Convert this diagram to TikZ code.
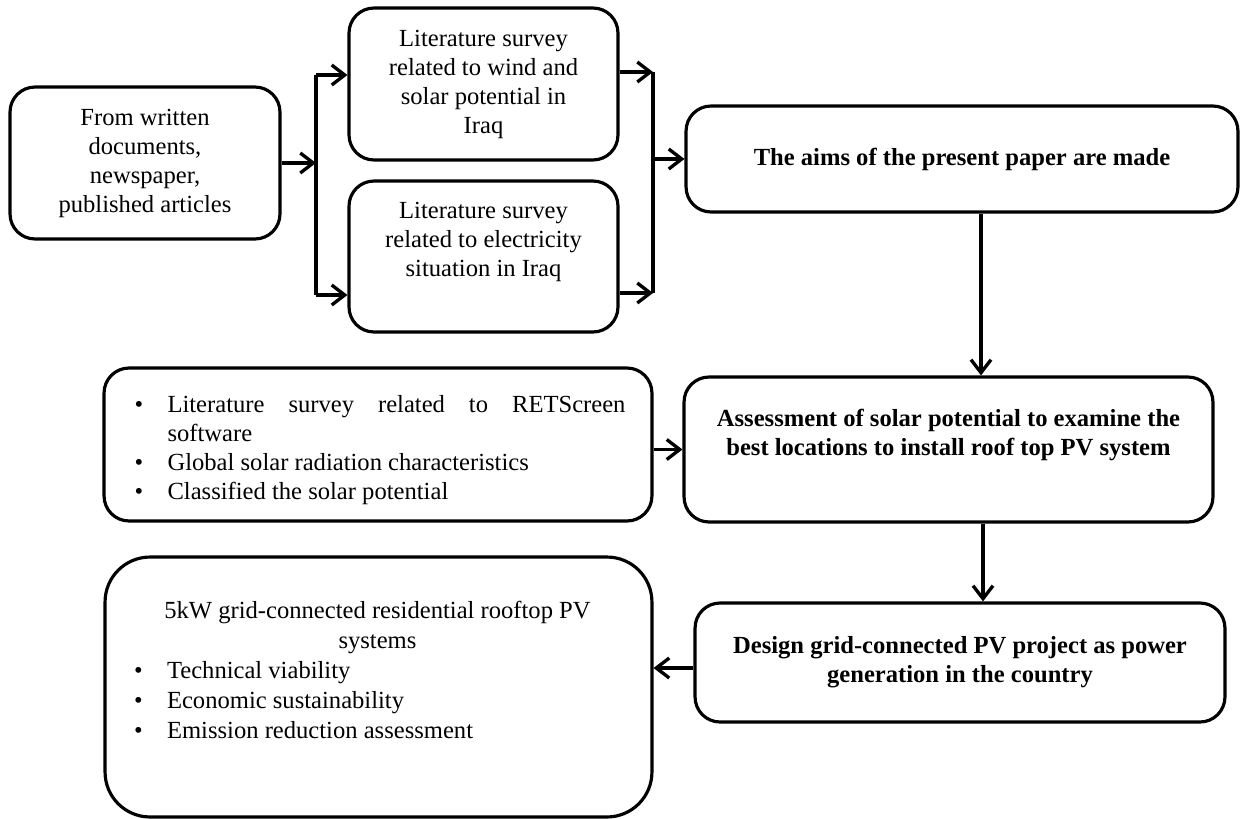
\documentclass[tikz,border=0pt]{standalone}
\usepackage{fontspec}
\setmainfont{Liberation Serif}
\usetikzlibrary{arrows.meta, positioning, calc}

\newcommand{\bul}[1]{\par\hangindent=0.74cm\hangafter=1\noindent\makebox[0.74cm][l]{\hspace{0.08cm}\textbullet}#1}

\begin{document}
\begin{tikzpicture}[
  x=0.02cm, y=-0.02cm,
  box/.style={draw, rounded corners=0.5cm, line width=1.8pt, align=center, inner sep=0pt, font=\fontsize{14}{16.5}\selectfont},
  txt/.style={inner sep=0pt, font=\fontsize{14}{16.5}\selectfont},
  arr/.style={-{Straight Barb[length=2.6mm, width=4mm]}, line width=1.9pt},
  wire/.style={line width=1.9pt},
]
  \useasboundingbox (0,0) rectangle (1240,818);

  % left column
  \node[box, minimum width=5.4cm, minimum height=3.04cm] (src) at (145,163)
    {From written\\documents,\\newspaper,\\published articles};
  \node[box, minimum width=5.38cm, minimum height=3.04cm] (wind) at (483.5,84)
    {Literature survey\\related to wind and\\solar potential in\\Iraq};
  \node[box, minimum width=5.38cm, minimum height=3.02cm] (elec) at (483.5,256.5) {};
  \node[txt, align=center] (electxt) at (483.5,242)
    {Literature survey\\related to electricity\\situation in Iraq};

  % right column
  \node[box, minimum width=11.04cm, minimum height=2.12cm, font=\fontsize{14}{16.5}\selectfont\bfseries] (aims) at (962,159)
    {The aims of the present paper are made};
  \node[box, minimum width=10.58cm, minimum height=2.9cm] (assess) at (948.5,449.5) {};
  \node[txt, align=center, font=\fontsize{14}{16.5}\selectfont\bfseries] (assesstxt) at (948.5,434.5)
    {Assessment of solar potential to examine the\\best locations to install roof top PV system};
  \node[box, minimum width=10.6cm, minimum height=2.38cm, font=\fontsize{14}{16.5}\selectfont\bfseries] (design) at (960,662.5)
    {Design grid-connected PV project as power\\generation in the country};

  % bullet boxes
  \node[box, align=justify, text width=9.9cm, inner xsep=0.52cm, minimum width=10.96cm, minimum height=3.06cm] (soft) at (378,444.5)
    {\bul{Literature survey related to RETScreen\linebreak software}\bul{Global solar radiation characteristics}\bul{Classified the solar potential}};
  \node[box, rounded corners=0.9cm, minimum width=10.94cm, minimum height=5.2cm] (pv) at (378.5,687) {};
  \node[txt, align=justify, text width=9.9cm, font=\fontsize{14}{17}\selectfont] (pvtxt) at (377.5,670)
    {{\centering 5kW grid-connected residential rooftop PV\\systems\par}\bul{Technical viability}\bul{Economic sustainability}\bul{Emission reduction assessment}};

  % buses
  \coordinate (lbtop) at (316,75);
  \coordinate (lbbot) at (316,295);
  \coordinate (rbtop) at (653,72);
  \coordinate (rbbot) at (653,293);
  \draw[arr] (src.east) -- (src.east -| lbtop);
  \draw[wire] (lbtop) -- (lbbot);
  \draw[arr] (lbtop) -- (lbtop -| wind.west);
  \draw[arr] (lbbot) -- (lbbot -| elec.west);
  \draw[arr] (rbtop -| wind.east) -- (rbtop);
  \draw[arr] (rbbot -| elec.east) -- (rbbot);
  \draw[wire] (rbtop) -- (rbbot);
  \draw[arr] (rbtop |- aims.west) -- (aims.west);

  % main flow
  \coordinate (vone) at (981,0);
  \coordinate (vtwo) at (983,0);
  \coordinate (hpv) at (0,668);
  \draw[arr] (aims.south -| vone) -- (assess.north -| vone);
  \draw[arr] (soft.east |- assess.west) -- (assess.west);
  \draw[arr] (assess.south -| vtwo) -- (design.north -| vtwo);
  \draw[arr] (design.west |- hpv) -- (pv.east |- hpv);
\end{tikzpicture}
\end{document}
